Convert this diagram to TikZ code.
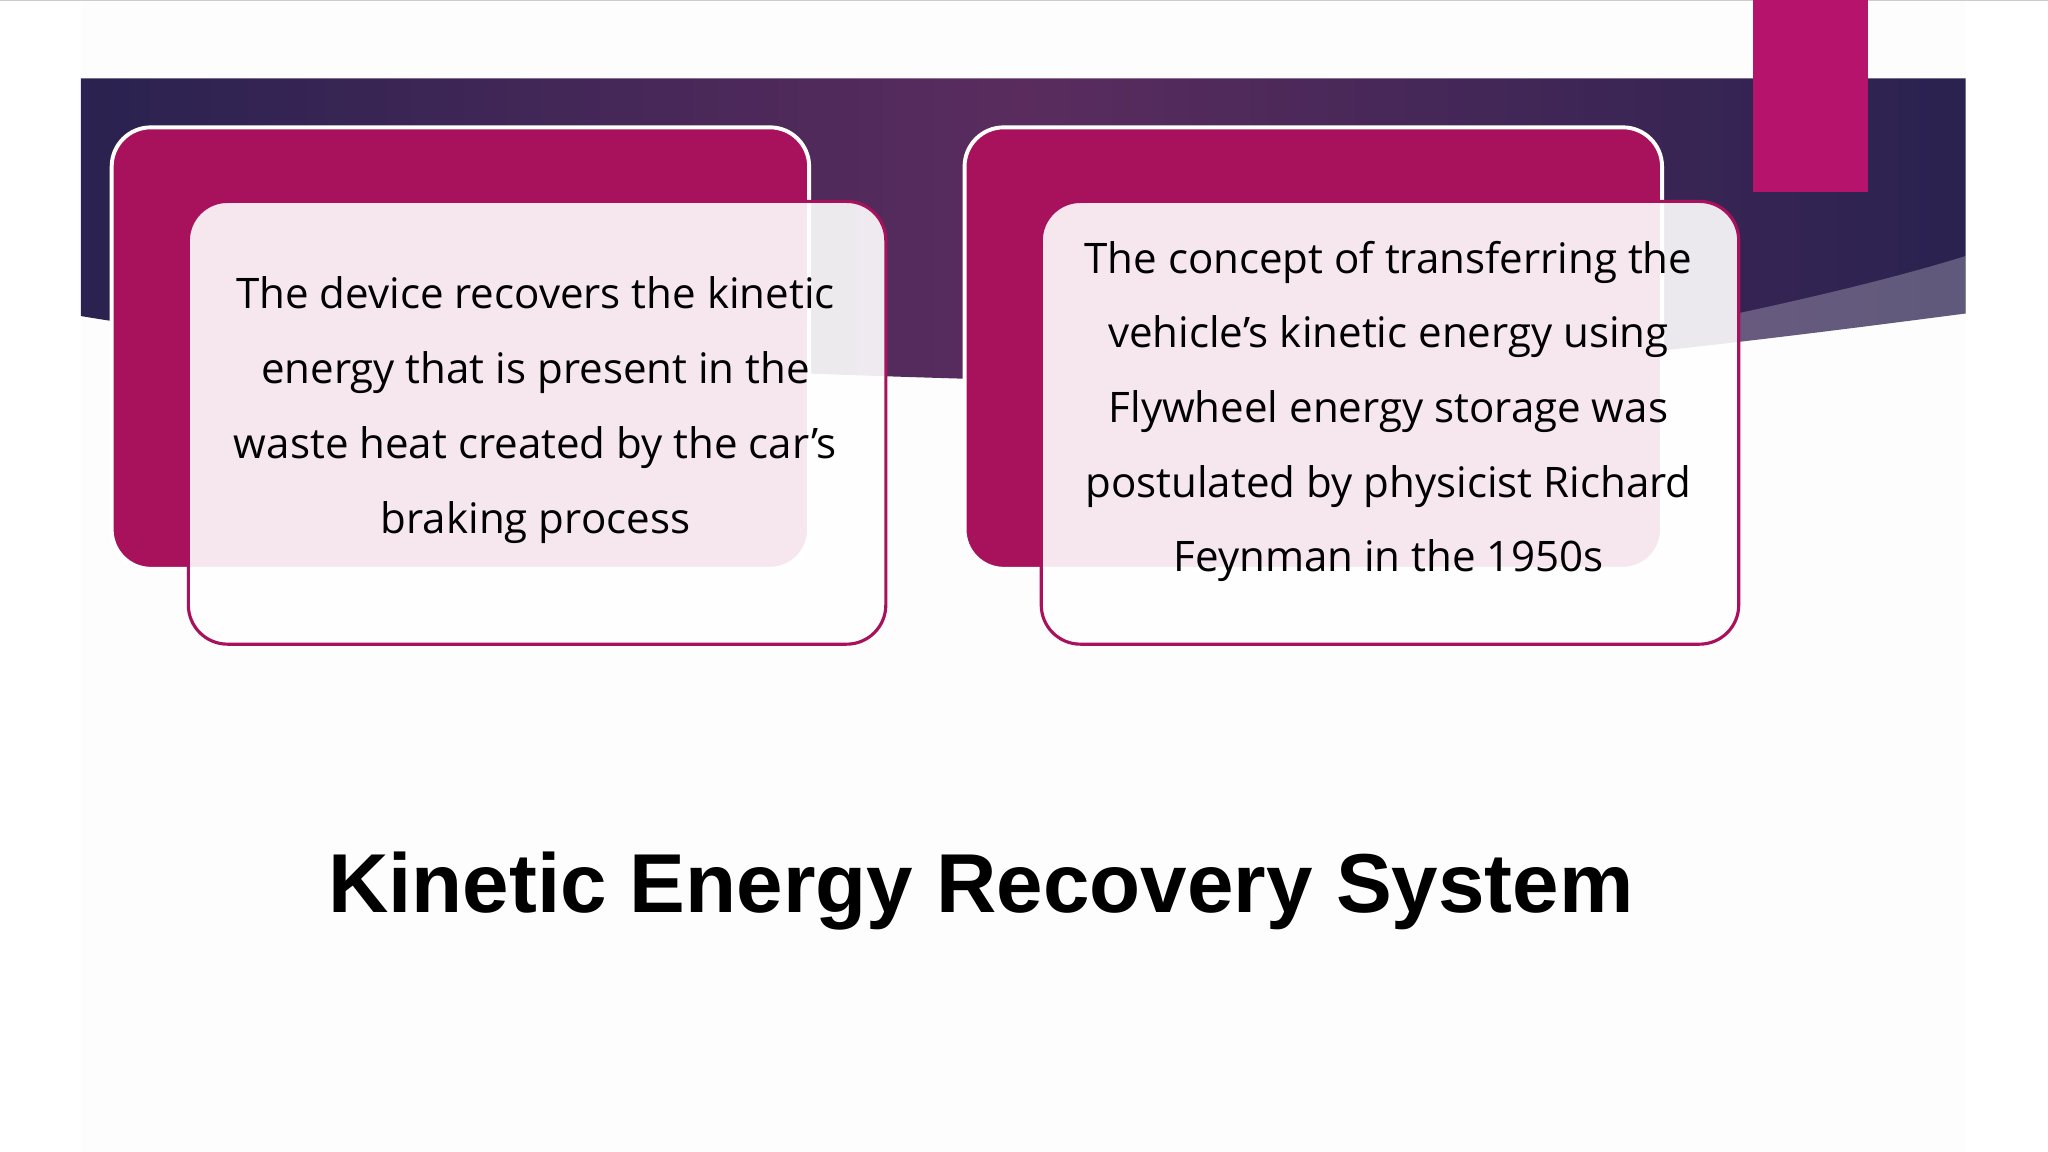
\documentclass[tikz,border=0pt]{standalone}
\usepackage{fontspec}
\setmainfont{Open Sans}
\newfontfamily\titlefont{Liberation Sans}
\definecolor{mag}{HTML}{A8115C}
\definecolor{magb}{HTML}{B5136C}
\definecolor{navy}{HTML}{2A2250}
\definecolor{plum}{HTML}{5A2C5E}
\begin{document}
\begin{tikzpicture}[x=0.5pt,y=-0.5pt,
  back/.style={fill=mag,draw=white,line width=1.5pt,rounded corners=15pt},
  front/.style={fill=white,fill opacity=0.9,draw=mag,line width=1.2pt,rounded corners=15pt,text opacity=1},
  body/.style={font=\fontsize{16.1}{28.6}\selectfont,align=center,text=black}]
\useasboundingbox (0,0) rectangle (1568,882);
\fill[white] (0,0) rectangle (1568,882);
\fill[gray!1.5] (62,0) rectangle (1505,882);
\draw[gray!40] (0,0.5) -- (1568,0.5);
\shade[left color=navy,right color=navy,middle color=plum]
  (62,60) -- (1505,60) -- (1505,240) .. controls (1200,280) and (1000,300) .. (740,290)
  .. controls (400,280) and (200,265) .. (62,242) -- cycle;
\fill[white,opacity=0.25] (1330,240) .. controls (1400,225) and (1460,210) .. (1505,196) -- (1505,240) .. controls (1450,250) and (1390,258) .. (1330,266) -- cycle;
\fill[magb] (1342,0) rectangle (1430,147);
\node[back,minimum width=267pt,minimum height=169pt,anchor=north west] (b1) at (84,96) {};
\node[front,minimum width=267pt,minimum height=169.5pt,anchor=north west] (f1) at (143,153) {};
\node[body] (t1) at (410,314) {The device recovers the kinetic\\energy that is present in the\\waste heat created by the car’s\\braking process};
\node[back,minimum width=267pt,minimum height=169pt,anchor=north west] (b2) at (737,96) {};
\node[front,minimum width=267pt,minimum height=169.5pt,anchor=north west] (f2) at (796,153) {};
\node[body] (t2) at (1063,315) {The concept of transferring the\\vehicle’s kinetic energy using\\Flywheel energy storage was\\postulated by physicist Richard\\Feynman in the 1950s};
\node[font=\titlefont\bfseries\fontsize{32}{40}\selectfont] (title) at (751,682) {Kinetic Energy Recovery System};
\end{tikzpicture}
\end{document}
